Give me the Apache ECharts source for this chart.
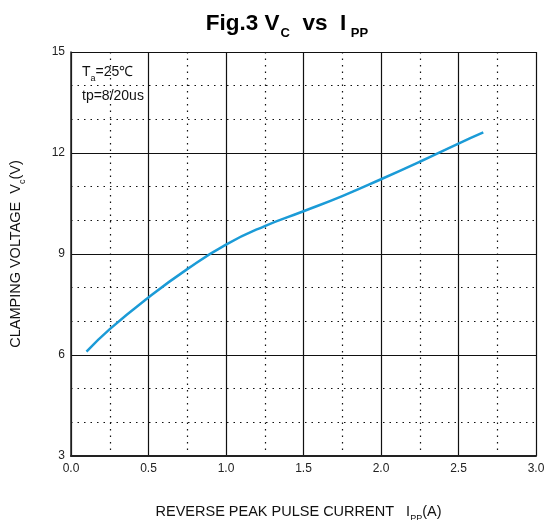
<!DOCTYPE html>
<html>
<head>
<meta charset="utf-8">
<script src="https://cdn.jsdelivr.net/npm/echarts@6/dist/echarts.min.js"></script>
<style>
  html, body { margin: 0; padding: 0; background: #fff; }
  #chart { width: 544px; height: 520px; }
</style>
</head>
<body>
<div id="chart"></div>
<script>
// current (A) and clamping voltage (V)
var ippValues = [0.1, 0.25, 0.5, 0.75, 1.0, 1.25, 1.5, 1.75, 2.0, 2.25, 2.5, 2.66];
var vcValues = [6.1, 6.77, 7.71, 8.55, 9.28, 9.83, 10.27, 10.72, 11.22, 11.74, 12.28, 12.61];
var xTicks = [0, 0.5, 1.0, 1.5, 2.0, 2.5, 3.0];
var yTicks = [3, 6, 9, 12, 15];

var font = "'Liberation Sans', Arial, sans-serif";
var chart = echarts.init(document.getElementById("chart"));

var points = ippValues.map(function (x, i) { return [x, vcValues[i]]; });

var option = {
  backgroundColor: "#fff",
  animation: false,
  title: {
    text: "{a|Fig.3 V}{s|C}{a|  vs  I}{s| PP}",
    left: 282,
    top: 2,
    textAlign: "center",
    textStyle: {
      rich: {
        a: { fontFamily: font, fontSize: 22.5, fontWeight: "bold", color: "#000", lineHeight: 28, verticalAlign: "bottom" },
        s: { fontFamily: font, fontSize: 13, fontWeight: "bold", color: "#000", lineHeight: 13, verticalAlign: "bottom", padding: [0, 0, -5, 1] }
      }
    }
  },
  grid: { left: 71, top: 52, width: 465, height: 404, outerBoundsMode: "none" },
  xAxis: {
    type: "value",
    min: xTicks[0],
    max: xTicks[xTicks.length - 1],
    interval: 0.5,
    axisLine: { lineStyle: { color: "#222", width: 2 } },
    axisTick: { show: false },
    axisLabel: {
      fontFamily: font, fontSize: 12, color: "#222", margin: 7,
      formatter: function (v) { return v.toFixed(1); }
    },
    splitLine: { show: true, lineStyle: { color: "#111", width: 1.2 } },
    minorTick: { show: false, splitNumber: 2 },
    minorSplitLine: { show: true, lineStyle: { color: "#111", width: 1.2, type: [1.5, 5] } },
    name: "{n|REVERSE PEAK PULSE CURRENT   I}{s|PP}{n|(A)}",
    nameLocation: "middle",
    nameGap: 45,
    nameTextStyle: {
      padding: [0, 10, 0, 0],
      rich: {
        n: { fontFamily: font, fontSize: 14.5, color: "#111", lineHeight: 18, verticalAlign: "bottom" },
        s: { fontFamily: font, fontSize: 9, color: "#111", lineHeight: 9, verticalAlign: "bottom", padding: [0, 0, -4, 0] }
      }
    }
  },
  yAxis: {
    type: "value",
    min: yTicks[0],
    max: yTicks[yTicks.length - 1],
    interval: 3,
    axisLine: { show: true, lineStyle: { color: "#222", width: 1.5 } },
    axisTick: { show: false },
    axisLabel: { fontFamily: font, fontSize: 12, color: "#222", margin: 6 },
    splitLine: { show: true, lineStyle: { color: "#111", width: 1.2 } },
    minorTick: { show: false, splitNumber: 3 },
    minorSplitLine: { show: true, lineStyle: { color: "#111", width: 1.2, type: [1.5, 5] } },
    name: "{n|CLAMPING VOLTAGE  V}{s|c}{n|(V)}",
    nameLocation: "middle",
    nameRotate: 90,
    nameGap: 48,
    nameTextStyle: {
      rich: {
        n: { fontFamily: font, fontSize: 14.5, color: "#111", lineHeight: 18, verticalAlign: "bottom" },
        s: { fontFamily: font, fontSize: 9, color: "#111", lineHeight: 9, verticalAlign: "bottom", padding: [0, 0, -4, 0] }
      }
    }
  },
  graphic: [
    {
      type: "text", left: 82, top: 65,
      style: {
        text: "{n|T}{s|a}{n|=25℃}",
        rich: {
          n: { fontFamily: font, fontSize: 14, fill: "#111", lineHeight: 18, verticalAlign: "bottom" },
          s: { fontFamily: font, fontSize: 9, fill: "#111", lineHeight: 9, verticalAlign: "bottom", padding: [0, 0, -4, 0] }
        }
      }
    },
    {
      type: "text", left: 82, top: 89,
      style: { text: "tp=8/20us", font: "14px " + font, fill: "#111" }
    }
  ],
  series: [
    {
      type: "line",
      data: points,
      smooth: true,
      showSymbol: false,
      lineStyle: { color: "#1b9bd7", width: 2.5 }
    }
  ]
};
chart.setOption(option);
</script>
</body>
</html>
